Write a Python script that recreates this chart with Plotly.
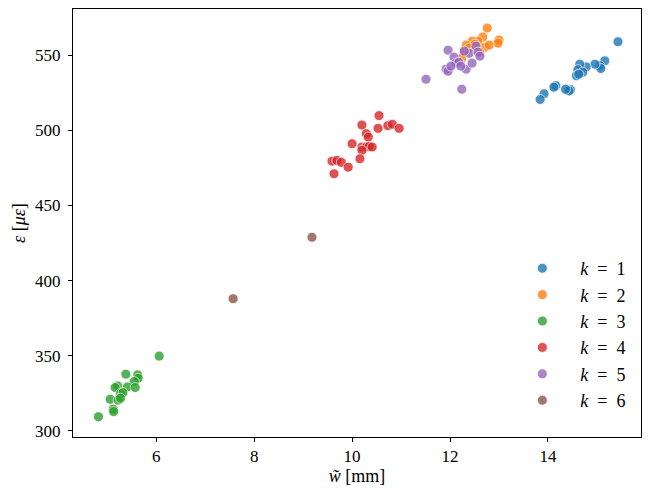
import plotly.graph_objects as go

# cluster data: w~ [mm] and strain [micro-eps]
k1_w = [15.43, 15.16, 15.06, 15.08, 14.96, 14.78, 14.65, 14.61, 14.58, 14.71,
        14.63, 14.46, 14.43, 14.36, 14.16, 14.12, 13.92, 13.84]
k1_e = [558.9, 546.2, 543.0, 541.1, 544.0, 542.2, 544.0, 540.3, 536.3, 538.7,
        537.3, 527.0, 526.2, 527.3, 529.7, 528.7, 524.3, 520.5]

k2_w = [12.76, 13.00, 12.98, 12.67, 12.57, 12.45, 12.33, 12.71, 12.29, 12.51,
        12.39, 12.24, 12.61, 12.80]
k2_e = [568.0, 560.0, 558.0, 562.0, 559.3, 559.3, 556.7, 555.3, 552.0, 557.3,
        554.7, 548.0, 552.0, 556.7]

k3_w = [6.06, 5.38, 5.62, 5.63, 5.55, 5.21, 5.16, 5.41, 5.57, 5.27, 5.32,
        5.06, 5.22, 5.27, 5.12, 5.13, 4.82]
k3_e = [349.8, 337.8, 337.3, 335.1, 332.9, 330.0, 328.9, 329.3, 328.9, 324.9,
        325.5, 321.1, 320.5, 321.8, 314.5, 312.9, 309.5]

k4_w = [10.55, 10.20, 10.53, 10.73, 10.82, 10.96, 10.29, 10.33, 10.00, 10.20,
        10.29, 10.35, 10.41, 10.20, 10.16, 9.59, 9.69, 9.78, 9.92, 9.63]
k4_e = [509.8, 503.5, 501.3, 503.1, 504.0, 501.3, 497.8, 495.5, 491.1, 488.9,
        488.9, 489.3, 488.9, 486.7, 481.1, 479.5, 480.0, 478.7, 475.5, 471.1]

k5_w = [11.51, 12.24, 11.96, 11.92, 12.08, 12.12, 12.18, 12.33, 12.45, 12.39,
        12.53, 12.57, 12.61, 12.29, 11.96, 12.02, 12.22]
k5_e = [534.0, 527.3, 553.3, 540.7, 548.7, 544.7, 545.3, 540.7, 544.7, 551.3,
        556.0, 552.0, 549.3, 552.7, 539.3, 542.7, 542.7]

k6_w = [9.18, 7.57]
k6_e = [428.9, 388.0]

groups = [(k1_w, k1_e), (k2_w, k2_e), (k3_w, k3_e),
          (k4_w, k4_e), (k5_w, k5_e), (k6_w, k6_e)]
colors = ['#1f77b4', '#ff7f0e', '#2ca02c', '#d62728', '#9467bd', '#8c564b']

font = 'Liberation Serif'

fig = go.Figure()
for i, (w, e) in enumerate(groups):
    fig.add_trace(go.Scatter(
        x=w, y=e, mode='markers',
        name='    <i>k</i>\u2002=\u2002%d' % (i + 1),
        marker=dict(size=10, color=colors[i], opacity=0.8,
                    line=dict(color='white', width=0.8))))

axis_style = dict(showgrid=False, zeroline=False, showline=True, linecolor='black',
                  linewidth=1, mirror=True, ticks='outside', ticklen=4,
                  tickcolor='black', tickfont=dict(size=17, family=font, color='black'))

fig.update_layout(
    width=654, height=497,
    margin=dict(l=73, r=13, t=9, b=60),
    plot_bgcolor='white', paper_bgcolor='white',
    font=dict(family=font, color='black'),
    xaxis=dict(range=[4.3, 15.9], tickvals=[6, 8, 10, 12, 14],
               title=dict(text='<i>w̃</i> [mm]', font=dict(size=18), standoff=2),
               ticklabelstandoff=0, **axis_style),
    yaxis=dict(range=[296, 580.7], tickvals=[300, 350, 400, 450, 500, 550],
               title=dict(text='<i>ε</i> [<i>με</i>]', font=dict(size=18), standoff=4),
               ticklabelstandoff=4, **axis_style),
    legend=dict(x=0.983, y=0.042, xanchor='right', yanchor='bottom',
                bgcolor='rgba(255,255,255,0)', font=dict(size=18, family=font),
                itemwidth=30),
)

fig.write_html("out.html", config={'displayModeBar': False},
               post_script="document.body.style.margin='0';")
